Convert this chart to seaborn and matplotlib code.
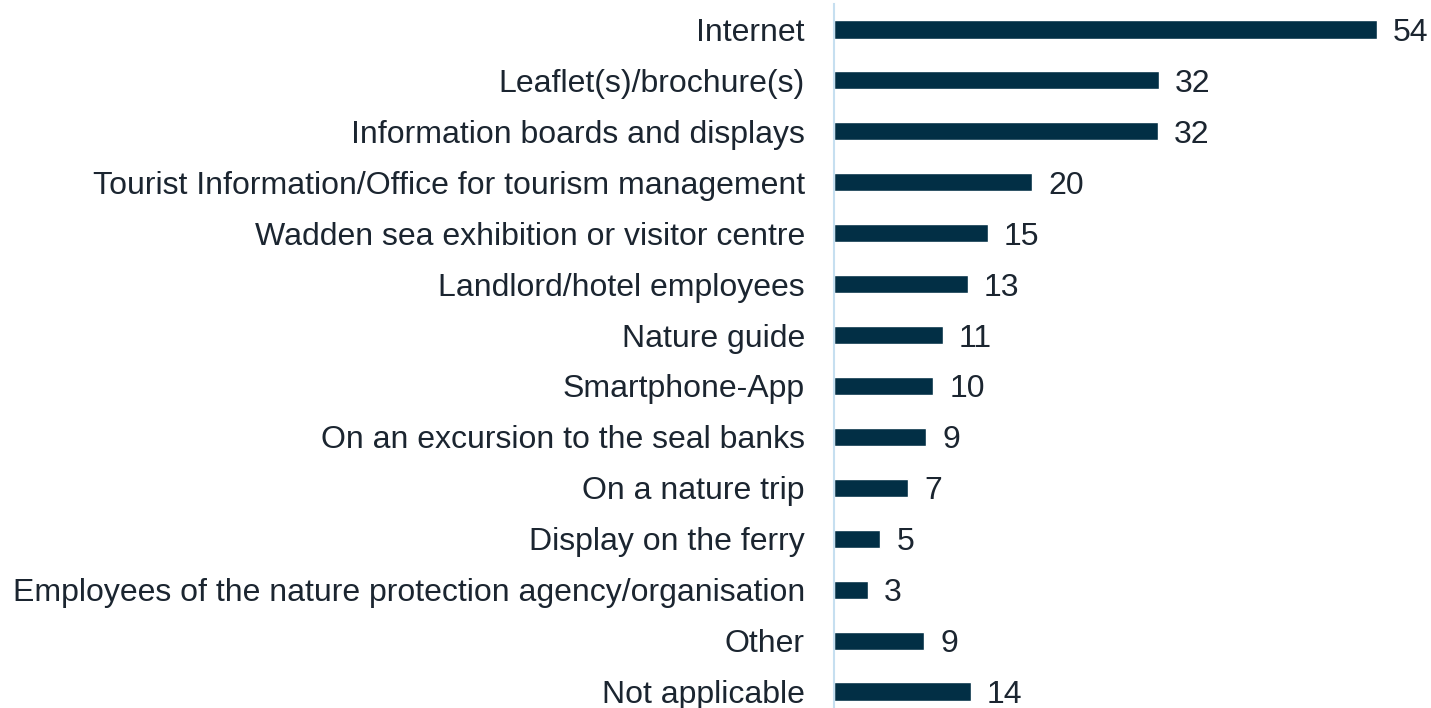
import matplotlib
matplotlib.use("Agg")
import matplotlib.pyplot as plt
import seaborn as sns
import pandas as pd

sns.set_theme(style="white")
plt.rcParams['font.family'] = ['Liberation Sans', 'DejaVu Sans']

sources = [
    'Internet',
    'Leaflet(s)/brochure(s)',
    'Information boards and displays',
    'Tourist Information/Office for tourism management',
    'Wadden sea exhibition or visitor centre',
    'Landlord/hotel employees',
    'Nature guide',
    'Smartphone-App',
    'On an excursion to the seal banks',
    'On a nature trip',
    'Display on the ferry',
    'Employees of the nature protection agency/organisation',
    'Other',
    'Not applicable',
]
values = [54.0, 32.3, 32.2, 19.7, 15.3, 13.3, 10.8, 9.9, 9.2, 7.4, 4.6, 3.4, 9.0, 13.6]
labels = ['54', '32', '32', '20', '15', '13', '11', '10', '9', '7', '5', '3', '9', '14']

BAR = '#022f45'
TEXT = '#1b2530'
FS = 23.0

df = pd.DataFrame({'source': sources, 'value': values})

fig = plt.figure(figsize=(14.31, 7.08), dpi=100)
ax = fig.add_axes([834 / 1431, -9 / 708, 597 / 1431, 713 / 708])

sns.barplot(data=df, y='source', x='value', order=sources, color=BAR,
            width=0.355, saturation=1, errorbar=None, ax=ax)

for i, (v, lab) in enumerate(zip(values, labels)):
    ax.text(v + 1.6, i, lab, va='center_baseline', ha='left', fontsize=FS, color=TEXT)

ax.set_xlim(0, 59.4)
ax.set_ylim(len(sources) - 0.5, -0.5)
ax.set_xlabel('')
ax.set_ylabel('')
ax.set_xticks([])
ax.tick_params(axis='y', length=0, pad=21, labelsize=FS, labelcolor=TEXT)
for s in ['top', 'right', 'bottom']:
    ax.spines[s].set_visible(False)
ax.spines['left'].set_color('#c6dff0')
ax.spines['left'].set_linewidth(1.5)

fig.savefig('out.png', dpi=100)
